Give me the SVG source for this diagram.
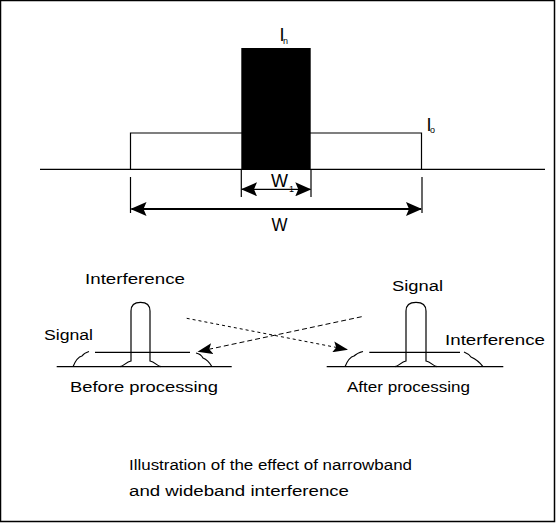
<svg xmlns="http://www.w3.org/2000/svg" width="556" height="523" viewBox="0 0 556 523">
<defs>
<style>
.ln{stroke:#000;fill:none;stroke-width:1.2}
.thk{stroke:#000;fill:none;stroke-width:2}
.t{font-family:"Liberation Sans",Arial,sans-serif;font-size:14px;fill:#000}
.lab{font-family:"Liberation Sans",Arial,sans-serif;font-size:18px;fill:#000}
.sub{font-family:"Liberation Sans",Arial,sans-serif;font-size:9px;fill:#000}
</style>
<marker id="ah" markerUnits="userSpaceOnUse" markerWidth="16" markerHeight="14" refX="15" refY="7" orient="auto-start-reverse" viewBox="0 0 16 14">
<path d="M0,0 L16,7 L0,14 L3,7 Z" fill="#000"/>
</marker>
<marker id="ahs" markerUnits="userSpaceOnUse" markerWidth="15" markerHeight="11" refX="14" refY="5.5" orient="auto" viewBox="0 0 15 11">
<path d="M0,0 L15,5.5 L0,11 L3,5.5 Z" fill="#000"/>
</marker>
</defs>
<rect x="0.5" y="0.5" width="554" height="521" fill="#fff" stroke="#000" stroke-width="1.5"/>

<g id="spectrum">
<line class="ln" x1="40" y1="169.3" x2="545" y2="169.3"/>
<polyline class="ln" points="130.5,169.3 130.5,133 421.5,133 421.5,169.3"/>
<rect id="narrowband" x="241.3" y="48" width="69.4" height="121.3" fill="#000"/>
<text class="lab" x="279.5" y="40.5">I</text><text class="sub" x="283" y="44">n</text>
<text class="lab" x="426.5" y="130.5">I</text><text class="sub" x="430" y="133">o</text>
</g>

<g id="dimensions">
<line class="ln" x1="241.3" y1="169" x2="241.3" y2="197"/>
<line class="ln" x1="311" y1="169" x2="311" y2="197"/>
<line class="ln" x1="242" y1="189.3" x2="310.3" y2="189.3" marker-start="url(#ah)" marker-end="url(#ah)"/>
<text class="lab" x="271" y="186.5" textLength="17" lengthAdjust="spacingAndGlyphs">W</text><text class="sub" x="289" y="192">1</text>
<line class="ln" x1="130.5" y1="177" x2="130.5" y2="213"/>
<line class="ln" x1="422" y1="177" x2="422" y2="213"/>
<line class="thk" x1="131.5" y1="209" x2="421" y2="209" marker-start="url(#ah)" marker-end="url(#ah)"/>
<text class="lab" x="271.5" y="231" textLength="16" lengthAdjust="spacingAndGlyphs">W</text>
</g>

<g id="before">
<line class="ln" x1="56.7" y1="366.7" x2="231.7" y2="366.7"/>
<line class="ln" x1="95" y1="352.3" x2="190" y2="352.3"/>
<path class="ln" d="M120,366.7 C124,366 126,362 131,361 L131,311 Q131,302.3 140.5,302.3 Q150,302.3 150,311 L150,361 C155,362 157,366 161,366.7"/>
<path class="ln" d="M73,366.7 Q77,357 82,356 Q84,353 89,351.5"/>
<path class="ln" d="M196,353 Q201,354 203,358 Q208,360 212,366.7"/>
<text class="t" x="85" y="284" textLength="100" lengthAdjust="spacingAndGlyphs">Interference</text>
<text class="t" x="44" y="340" textLength="49" lengthAdjust="spacingAndGlyphs">Signal</text>
<text class="t" x="70" y="391.5" textLength="148" lengthAdjust="spacingAndGlyphs">Before processing</text>
</g>

<g id="after">
<line class="ln" x1="326.7" y1="366.7" x2="503.3" y2="366.7"/>
<line class="ln" x1="369.3" y1="352.3" x2="460" y2="352.3"/>
<path class="ln" d="M395,366.7 C399,366 401,362 406,361 L406,311 Q406,302.3 416,302.3 Q426,302.3 426,311 L426,361 C431,362 433,366 437,366.7"/>
<path class="ln" d="M345,366.7 Q349,357 354,356 Q357,353 363,351.5"/>
<path class="ln" d="M464,352 Q469,354 471,357 Q478,360 483,366.7"/>
<text class="t" x="392" y="291" textLength="51" lengthAdjust="spacingAndGlyphs">Signal</text>
<text class="t" x="445" y="345" textLength="100" lengthAdjust="spacingAndGlyphs">Interference</text>
<text class="t" x="347" y="392" textLength="123" lengthAdjust="spacingAndGlyphs">After processing</text>
</g>

<g id="connectors">
<line x1="186.7" y1="318.3" x2="347" y2="349.5" stroke="#000" stroke-width="1" stroke-dasharray="3,3" marker-end="url(#ahs)"/>
<line x1="361.7" y1="316.7" x2="198.5" y2="351.5" stroke="#000" stroke-width="1" stroke-dasharray="5,3" marker-end="url(#ahs)"/>
</g>

<g id="caption">
<text class="t" x="129" y="470" textLength="283" lengthAdjust="spacingAndGlyphs">Illustration of the effect of narrowband</text>
<text class="t" x="129" y="496" textLength="220" lengthAdjust="spacingAndGlyphs">and wideband interference</text>
</g>
</svg>
